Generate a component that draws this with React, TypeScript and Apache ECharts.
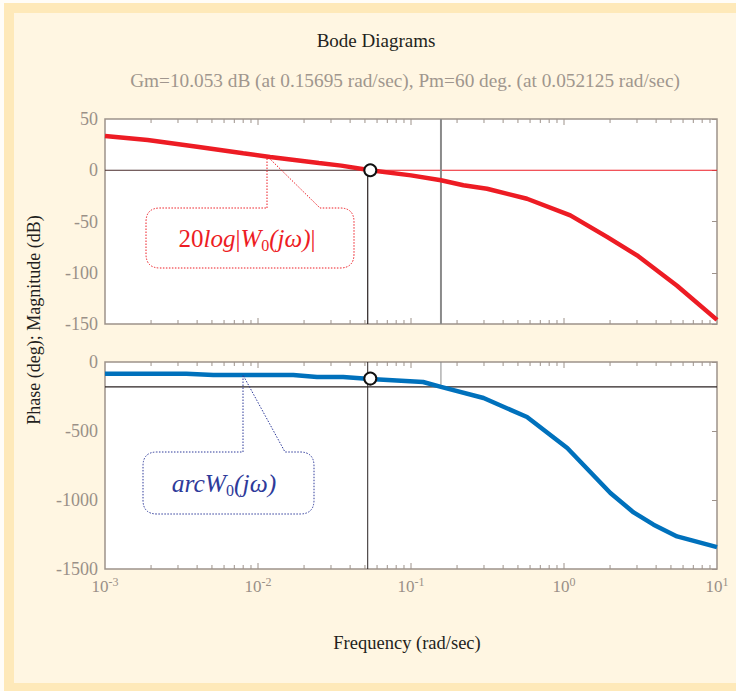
import React, { useEffect, useRef } from "react";
import * as echarts from "echarts";

// ---------- data ----------
const FREQ_MIN = 0.001;
const FREQ_MAX = 10;
const MAG_MIN = -150;
const MAG_MAX = 50;
const MAG_STEP = 50;
const PHASE_MIN = -1500;
const PHASE_MAX = 0;
const PHASE_STEP = 500;

const MAG_FREQS = [0.001, 0.0019, 0.004, 0.008, 0.012, 0.025, 0.035, 0.0542, 0.1, 0.157, 0.22, 0.314, 0.573, 1.1, 1.91, 3, 5.48, 10];
const MAG_DB = [33.5, 29.5, 23, 16.5, 13, 7, 4.5, 0, -5, -9.8, -14.7, -18, -27.8, -44, -65, -83, -112.7, -146];

const PHASE_FREQS = [0.001, 0.0034, 0.0051, 0.017, 0.0243, 0.036, 0.0542, 0.12, 0.157, 0.298, 0.573, 1.05, 2.01, 2.85, 3.85, 5.48, 10];
const PHASE_DEG = [-85, -85, -94, -94, -109, -109, -123, -145, -180, -261, -399, -623, -949, -1090, -1179, -1264, -1341];

const GM_FREQ = 0.15695;
const PM_FREQ = 0.052125;
const PM_MARK_FREQ = 0.0542;
const PM_PHASE = -120;
const PHASE_CROSS = -180;

const DECADES = [0.001, 0.01, 0.1, 1, 10];
const MINOR_MULTS = [2, 3, 4, 5, 6, 7, 8, 9];

const TITLE = "Bode Diagrams";
const SUBTITLE = "Gm=10.053 dB (at 0.15695 rad/sec), Pm=60 deg. (at 0.052125 rad/sec)";
const X_NAME = "Frequency (rad/sec)";
const Y_NAME = "Phase (deg); Magnitude (dB)";

// ---------- styles ----------
const FONT = "Liberation Serif";
const AXIS_COLOR = "#9d928a";
const LABEL_COLOR = "#9a9088";
const RED = "#ED1C24";
const BLUE = "#0071BC";
const NAVY = "#2e3a9a";
const DARK = "#2a2222";
const GREY = "#8a8a8a";

// callout shapes (relative to box origin)
const RED_CALLOUT_D =
  "M 121 0 L 121 -52 L 174 0 L 194 0 Q 208 0 208 14 L 208 46 Q 208 60 194 60 L 14 60 Q 0 60 0 46 L 0 14 Q 0 0 14 0 Z";
const BLUE_CALLOUT_D =
  "M 100 0 L 100 -77 L 142 0 L 157 0 Q 171 0 171 14 L 171 48 Q 171 62 157 62 L 14 62 Q 0 62 0 48 L 0 14 Q 0 0 14 0 Z";

echarts.graphic.registerShape("calloutRed", echarts.graphic.extendPath(RED_CALLOUT_D, {}));
echarts.graphic.registerShape("calloutBlue", echarts.graphic.extendPath(BLUE_CALLOUT_D, {}));

function buildTicks(yMin: number) {
  const out: number[][] = [];
  for (let i = 0; i < DECADES.length - 1; i++) {
    const d = DECADES[i];
    if (i > 0) out.push([d, yMin, 1]);
    for (const m of MINOR_MULTS) out.push([d * m, yMin, 0]);
  }
  return out;
}

function tickRenderer(yMin: number, yMax: number) {
  return (params: any, api: any) => {
    const f = api.value(0);
    const major = api.value(2) === 1;
    const t = api.coord([f, yMax]);
    const b = api.coord([f, yMin]);
    const len = major ? 6 : 4;
    const style = { stroke: AXIS_COLOR, lineWidth: 1 };
    return {
      type: "group",
      children: [
        { type: "line", shape: { x1: t[0], y1: t[1], x2: t[0], y2: t[1] + len }, style },
        { type: "line", shape: { x1: b[0], y1: b[1], x2: b[0], y2: b[1] - len }, style },
      ],
    };
  };
}

function seg(xi: number, yi: number, data: number[][], color: string, width: number, z: number) {
  return {
    type: "line",
    xAxisIndex: xi,
    yAxisIndex: yi,
    data,
    showSymbol: false,
    symbol: "none",
    lineStyle: { color, width },
    silent: true,
    z,
    animation: false,
  };
}

function xAxis(gridIndex: number, showLabels: boolean) {
  return {
    type: "log",
    logBase: 10,
    gridIndex,
    min: FREQ_MIN,
    max: FREQ_MAX,
    axisLine: { show: false },
    axisTick: { show: false },
    splitLine: { show: false },
    axisLabel: {
      show: showLabels,
      margin: 7,
      fontFamily: FONT,
      fontSize: 17,
      color: LABEL_COLOR,
      formatter: (v: number) => `{b|10}{s|${Math.round(Math.log10(v))}}`,
      rich: {
        b: { fontFamily: FONT, fontSize: 17, color: LABEL_COLOR, lineHeight: 21 },
        s: { fontFamily: FONT, fontSize: 12, color: LABEL_COLOR, verticalAlign: "top" },
      },
    },
  };
}

function yAxis(gridIndex: number, min: number, max: number, interval: number, right: boolean) {
  return {
    type: "value",
    gridIndex,
    position: right ? "right" : "left",
    min,
    max,
    interval,
    axisLine: { show: false },
    axisTick: { show: right, inside: true, length: 5, lineStyle: { color: AXIS_COLOR } },
    splitLine: { show: false },
    axisLabel: {
      show: !right,
      margin: 7,
      color: LABEL_COLOR,
      fontFamily: FONT,
      fontSize: 18,
      formatter: (v: number) => String(v),
    },
  };
}

export default function App() {
  const ref = useRef<HTMLDivElement>(null);

  useEffect(() => {
    document.body.style.margin = "0";
    if (!ref.current) return;
    const chart = echarts.init(ref.current, undefined, { renderer: "svg" });

    const magData = MAG_FREQS.map((f, i) => [f, MAG_DB[i]]);
    const phaseData = PHASE_FREQS.map((f, i) => [f, PHASE_DEG[i]]);

    const option: any = {
      animation: false,
      grid: [
        { left: 105, top: 119, width: 612, height: 205, show: true, backgroundColor: "#ffffff", borderColor: AXIS_COLOR, borderWidth: 1.5 },
        { left: 105, top: 362, width: 612, height: 207, show: true, backgroundColor: "#ffffff", borderColor: AXIS_COLOR, borderWidth: 1.5 },
      ],
      xAxis: [xAxis(0, false), xAxis(1, true)],
      yAxis: [
        yAxis(0, MAG_MIN, MAG_MAX, MAG_STEP, false),
        yAxis(0, MAG_MIN, MAG_MAX, MAG_STEP, true),
        yAxis(1, PHASE_MIN, PHASE_MAX, PHASE_STEP, false),
        yAxis(1, PHASE_MIN, PHASE_MAX, PHASE_STEP, true),
      ],
      series: [
        {
          type: "custom",
          xAxisIndex: 0,
          yAxisIndex: 0,
          data: buildTicks(MAG_MIN),
          encode: { x: 0, y: 1 },
          renderItem: tickRenderer(MAG_MIN, MAG_MAX),
          silent: true,
          clip: false,
          z: 1,
        },
        {
          type: "custom",
          xAxisIndex: 1,
          yAxisIndex: 2,
          data: buildTicks(PHASE_MIN),
          encode: { x: 0, y: 1 },
          renderItem: tickRenderer(PHASE_MIN, PHASE_MAX),
          silent: true,
          clip: false,
          z: 1,
        },
        // magnitude plot reference lines
        seg(0, 0, [[FREQ_MIN, 0], [PM_MARK_FREQ, 0]], "#4a2c2c", 1, 2),
        seg(0, 0, [[PM_MARK_FREQ, 0], [FREQ_MAX, 0]], RED, 1, 2),
        seg(0, 0, [[PM_FREQ, 0], [PM_FREQ, MAG_MIN]], DARK, 1.2, 2),
        seg(0, 0, [[GM_FREQ, MAG_MAX], [GM_FREQ, MAG_MIN]], GREY, 2, 2),
        { ...seg(0, 0, magData, RED, 4.5, 5), name: "Magnitude" },
        {
          type: "scatter",
          xAxisIndex: 0,
          yAxisIndex: 0,
          data: [[PM_MARK_FREQ, 0]],
          symbol: "circle",
          symbolSize: 12,
          itemStyle: { color: "#ffffff", borderColor: "#111111", borderWidth: 2, opacity: 1 },
          silent: true,
          z: 10,
        },
        // phase plot reference lines
        seg(1, 2, [[FREQ_MIN, PHASE_CROSS], [FREQ_MAX, PHASE_CROSS]], DARK, 1.2, 2),
        seg(1, 2, [[PM_FREQ, PHASE_MAX], [PM_FREQ, PHASE_MIN]], DARK, 1, 2),
        seg(1, 2, [[GM_FREQ, PHASE_MAX], [GM_FREQ, PHASE_CROSS]], GREY, 1, 2),
        { ...seg(1, 2, phaseData, BLUE, 4.5, 5), name: "Phase" },
        {
          type: "scatter",
          xAxisIndex: 1,
          yAxisIndex: 2,
          data: [[PM_MARK_FREQ, PM_PHASE]],
          symbol: "circle",
          symbolSize: 12,
          itemStyle: { color: "#ffffff", borderColor: "#111111", borderWidth: 2, opacity: 1 },
          silent: true,
          z: 10,
        },
      ],
      graphic: [
        {
          type: "text",
          x: 376,
          y: 40,
          style: { text: TITLE, fontFamily: FONT, fontSize: 19, fill: "#231f20", align: "center", verticalAlign: "middle" },
        },
        {
          type: "text",
          x: 405,
          y: 80,
          style: { text: SUBTITLE, fontFamily: FONT, fontSize: 19.3, fill: "#a0968e", align: "center", verticalAlign: "middle" },
        },
        {
          type: "text",
          x: 407,
          y: 643,
          style: { text: X_NAME, fontFamily: FONT, fontSize: 18.5, fill: "#231f20", align: "center", verticalAlign: "middle" },
        },
        {
          type: "text",
          x: 34,
          y: 320,
          rotation: Math.PI / 2,
          style: { text: Y_NAME, fontFamily: FONT, fontSize: 18, fill: "#231f20", align: "center", verticalAlign: "middle" },
        },
        {
          type: "calloutRed",
          x: 146,
          y: 208,
          z: 20,
          style: { fill: "none", stroke: RED, lineWidth: 1, lineDash: [1.5, 1.5] },
        },
        {
          type: "calloutBlue",
          x: 143,
          y: 452,
          z: 20,
          style: { fill: "none", stroke: NAVY, lineWidth: 1, lineDash: [1.5, 1.5] },
        },
        {
          type: "text",
          x: 247,
          y: 238,
          z: 20,
          style: {
            text: "{n|20}{i|log}{n||}{i|W}{sub|0}{i|(jω)}{n||}",
            align: "center",
            verticalAlign: "middle",
            rich: {
              n: { fontFamily: FONT, fontSize: 25, fill: RED, lineHeight: 30 },
              i: { fontFamily: FONT, fontSize: 25, fontStyle: "italic", fill: RED, lineHeight: 30 },
              sub: { fontFamily: FONT, fontSize: 16, fill: RED, verticalAlign: "bottom" },
            },
          },
        },
        {
          type: "text",
          x: 224,
          y: 483,
          z: 20,
          style: {
            text: "{i|arcW}{sub|0}{i|(jω)}",
            align: "center",
            verticalAlign: "middle",
            rich: {
              i: { fontFamily: FONT, fontSize: 25.5, fontStyle: "italic", fill: NAVY, lineHeight: 30 },
              sub: { fontFamily: FONT, fontSize: 16, fill: NAVY, verticalAlign: "bottom" },
            },
          },
        },
      ],
    };

    chart.setOption(option);
    return () => chart.dispose();
  }, []);

  return (
    <div style={{ position: "relative", width: 736, height: 691, background: "#fffdf8", overflow: "hidden" }}>
      <div style={{ position: "absolute", left: 4, top: 3, right: 0, bottom: 0, background: "#FEE9B9" }} />
      <div style={{ position: "absolute", left: 14, top: 13, right: 0, bottom: 8, background: "#FFF6E2" }} />
      <div ref={ref} style={{ position: "absolute", left: 0, top: 0, width: 736, height: 691 }} />
    </div>
  );
}
